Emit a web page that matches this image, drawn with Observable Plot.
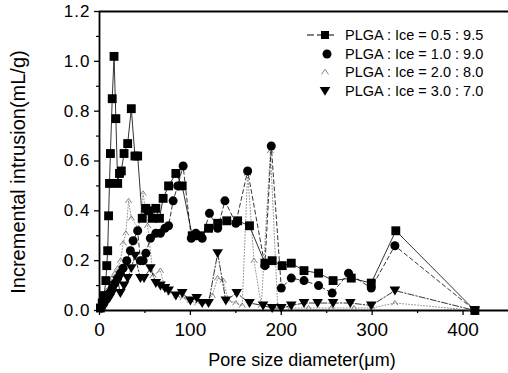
<!DOCTYPE html>
<html>
<head>
<meta charset="utf-8">
<script src="https://cdn.jsdelivr.net/npm/d3@7"></script>
<script src="https://cdn.jsdelivr.net/npm/@observablehq/plot@0.6"></script>
<style>
  html, body { margin: 0; padding: 0; background: #fff; }
  #wrap { position: relative; width: 508px; height: 373px; overflow: hidden; }
  #legend { position: absolute; left: 0; top: 0; }
  g[aria-label="y-axis tick label"] text { letter-spacing: 1px; }
</style>
</head>
<body>
<div id="wrap"></div>
<script>
// ---- data ----
const seriesNames = ["PLGA : Ice = 0.5 : 9.5", "PLGA : Ice = 1.0 : 9.0", "PLGA : Ice = 2.0 : 8.0", "PLGA : Ice = 3.0 : 7.0"];

const x1 = [1, 3, 5, 7, 8, 9, 10, 11, 12, 14, 16, 18, 20, 22, 24, 27, 31, 35, 39, 42, 47, 51, 54, 58, 62, 66, 70, 76, 84, 91, 102, 111, 120, 130, 140, 152, 165, 182, 190, 201, 211, 225, 241, 257, 277, 299, 326, 413];
const y1 = [0.01, 0.03, 0.06, 0.12, 0.18, 0.24, 0.38, 0.51, 0.63, 0.85, 1.02, 0.77, 0.51, 0.55, 0.56, 0.63, 0.67, 0.81, 0.62, 0.62, 0.37, 0.41, 0.40, 0.37, 0.41, 0.37, 0.45, 0.50, 0.55, 0.50, 0.30, 0.30, 0.33, 0.35, 0.36, 0.36, 0.34, 0.19, 0.20, 0.18, 0.19, 0.16, 0.15, 0.12, 0.13, 0.11, 0.32, 0.0];

const x2 = [2, 5, 8, 11, 14, 17, 20, 23, 26, 30, 34, 37, 42, 45, 48, 51, 56, 62, 67, 72, 76, 81, 86, 92, 101, 106, 113, 121, 130, 138, 150, 163, 182, 189, 200, 211, 225, 241, 256, 274, 299, 325, 413];
const y2 = [0.01, 0.03, 0.05, 0.07, 0.09, 0.11, 0.13, 0.15, 0.17, 0.20, 0.24, 0.28, 0.32, 0.20, 0.20, 0.23, 0.29, 0.31, 0.31, 0.33, 0.34, 0.44, 0.50, 0.58, 0.29, 0.31, 0.29, 0.39, 0.33, 0.44, 0.35, 0.56, 0.18, 0.66, 0.09, 0.13, 0.12, 0.10, 0.07, 0.15, 0.09, 0.26, 0.0];

const x3 = [2, 5, 8, 11, 14, 17, 20, 23, 26, 29, 32, 35, 43, 48, 53, 59, 67, 72, 78, 85, 92, 100, 108, 116, 124, 130, 136, 142, 150, 157, 163, 170, 178, 188, 196, 210, 230, 255, 280, 300, 325, 413];
const y3 = [0.02, 0.05, 0.08, 0.11, 0.13, 0.15, 0.17, 0.20, 0.27, 0.31, 0.44, 0.37, 0.33, 0.47, 0.34, 0.14, 0.16, 0.09, 0.07, 0.06, 0.05, 0.04, 0.03, 0.03, 0.06, 0.13, 0.12, 0.04, 0.03, 0.02, 0.55, 0.20, 0.02, 0.64, 0.02, 0.01, 0.01, 0.01, 0.01, 0.01, 0.03, 0.0];

const x4 = [2, 5, 8, 11, 14, 17, 20, 23, 27, 31, 35, 39, 45, 49, 56, 62, 67, 72, 76, 84, 91, 100, 107, 113, 120, 130, 139, 151, 165, 180, 190, 200, 211, 225, 240, 257, 276, 299, 325, 413];
const y4 = [0.01, 0.02, 0.04, 0.05, 0.07, 0.10, 0.12, 0.07, 0.10, 0.13, 0.17, 0.22, 0.13, 0.13, 0.17, 0.11, 0.10, 0.09, 0.08, 0.06, 0.07, 0.04, 0.05, 0.03, 0.03, 0.23, 0.04, 0.07, 0.03, 0.02, 0.01, 0.01, 0.02, 0.03, 0.03, 0.03, 0.03, 0.02, 0.08, 0.0];

const xTicks = [0, 100, 200, 300, 400];
const xMinorTicks = [50, 150, 250, 350];
const yTicks = [0, 0.2, 0.4, 0.6, 0.8, 1.0, 1.2];
const yMinorTicks = [0.1, 0.3, 0.5, 0.7, 0.9, 1.1];
const xTitle = "Pore size diameter(\u03bcm)";
const yTitle = "Incremental intrusion(mL/g)";

// ---- tables ----
const toRows = (xs, ys) => xs.map((x, i) => ({x, y: ys[i]}));
const s1 = toRows(x1, y1), s2 = toRows(x2, y2), s3 = toRows(x3, y3), s4 = toRows(x4, y4);

// custom symbols
const downTriangle = {
  draw(ctx, size) {
    const w = Math.sqrt(size) * 0.6, h = Math.sqrt(size) * 1.0;
    ctx.moveTo(-w, -h * 0.45);
    ctx.lineTo(w, -h * 0.45);
    ctx.lineTo(0, h * 0.55);
    ctx.closePath();
  }
};
const caret = {
  draw(ctx, size) {
    const w = Math.sqrt(size) * 0.45;
    ctx.moveTo(-w, w * 0.7);
    ctx.lineTo(0, -w * 0.8);
    ctx.lineTo(w, w * 0.7);
  }
};

const font = "'Liberation Sans', Arial, Helvetica, sans-serif";

const chart = Plot.plot({
  width: 508,
  height: 373,
  marginLeft: 99,
  marginRight: 0,
  marginTop: 11,
  marginBottom: 63,
  x: {domain: [0, 450]},
  y: {domain: [0, 1.2]},
  style: {fontFamily: font, color: "#000", background: "transparent", overflow: "visible"},
  marks: [
    Plot.axisX({ticks: xTicks, tickSize: 5, tickPadding: 7, fontSize: 19, label: null, strokeWidth: 1.3}),
    Plot.axisX({ticks: xMinorTicks, tickSize: 3, text: null, label: null, strokeWidth: 1.2}),
    Plot.axisY({ticks: yTicks, tickFormat: d3.format(".1f"), tickSize: 5, tickPadding: 4, fontSize: 17, label: null, strokeWidth: 1.3}),
    Plot.axisY({ticks: yMinorTicks, tickSize: 3, text: null, label: null, strokeWidth: 1.2}),
    Plot.ruleX([0], {stroke: "#000", strokeWidth: 1.8}),
    Plot.ruleY([0], {stroke: "#000", strokeWidth: 1.8}),
    Plot.ruleY([1.2], {stroke: "#000", strokeWidth: 1.8}),
    // series 3 (dotted, grey, open carets)
    Plot.line(s3, {x: "x", y: "y", stroke: "#888", strokeWidth: 0.9, strokeDasharray: "1,2"}),
    Plot.dot(s3, {x: "x", y: "y", symbol: caret, r: 4, stroke: "#777", strokeWidth: 0.9, fill: "none"}),
    // series 4 (dash-dot, down triangles)
    Plot.line(s4, {x: "x", y: "y", stroke: "#000", strokeWidth: 0.8, strokeDasharray: "6,2,1.5,2"}),
    Plot.dot(s4, {x: "x", y: "y", symbol: downTriangle, r: 5, fill: "#000", stroke: "none"}),
    // series 2 (dashed, circles)
    Plot.line(s2, {x: "x", y: "y", stroke: "#000", strokeWidth: 0.8, strokeDasharray: "4,3"}),
    Plot.dot(s2, {x: "x", y: "y", symbol: "circle", r: 4.5, fill: "#000", stroke: "none"}),
    // series 1 (solid, squares)
    Plot.line(s1, {x: "x", y: "y", stroke: "#000", strokeWidth: 0.8}),
    Plot.dot(s1, {x: "x", y: "y", symbol: "square", r: 5, fill: "#000", stroke: "none"}),
    // axis titles
    Plot.text([yTitle], {text: d => d, frameAnchor: "left", textAnchor: "middle", lineAnchor: "middle", rotate: -90, dx: -81, dy: 11, fontSize: 20}),
    Plot.text([xTitle], {text: d => d, frameAnchor: "bottom", textAnchor: "middle", lineAnchor: "middle", dx: -2, dy: 50, fontSize: 18})
  ]
});

const wrap = document.getElementById("wrap");
wrap.appendChild(chart);

// ---- legend overlay ----
const leg = d3.select(wrap).append("svg")
  .attr("id", "legend").attr("width", 508).attr("height", 373)
  .style("font-family", font);
const rowY = [35, 54, 72, 91];
const symX = 325;
seriesNames.forEach((name, i) => {
  const g = leg.append("g").attr("transform", `translate(${symX},${rowY[i]})`);
  if (i === 0) {
    g.append("line").attr("x1", -18).attr("x2", 12).attr("stroke", "#000").attr("stroke-width", 1).attr("stroke-dasharray", "7,3");
    g.append("path").attr("d", d3.symbol(d3.symbolSquare, 64)()).attr("fill", "#000");
  } else if (i === 1) {
    g.append("path").attr("transform", "translate(2,0)").attr("d", d3.symbol(d3.symbolCircle, 63)()).attr("fill", "#000");
  } else if (i === 2) {
    g.append("path").attr("d", d3.symbol(caret, 60)()).attr("fill", "none").attr("stroke", "#777").attr("stroke-width", 0.9);
  } else {
    g.append("path").attr("d", d3.symbol(downTriangle, 78)()).attr("fill", "#000");
  }
  leg.append("text").attr("x", 345).attr("y", rowY[i]).attr("dy", "0.35em")
    .attr("font-size", 14.5).attr("fill", "#000").text(name);
});
</script>
</body>
</html>
